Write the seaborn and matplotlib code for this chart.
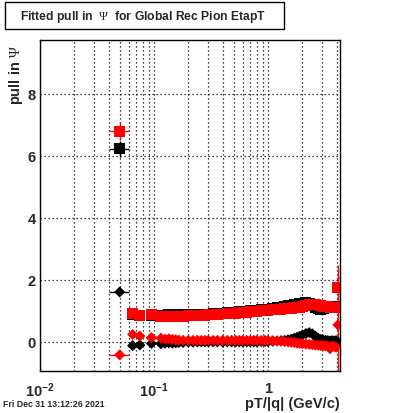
import numpy as np
import pandas as pd
import matplotlib
matplotlib.use("Agg")
import matplotlib.pyplot as plt
import seaborn as sns
from matplotlib.ticker import MultipleLocator, LogLocator, NullFormatter, FixedLocator
from matplotlib.patches import Rectangle

# bin centres in pT/|q| (GeV/c)
pt = [0.05, 0.065, 0.075, 0.095, 0.115, 0.125, 0.135, 0.145, 0.155, 0.165,
      0.18, 0.2, 0.22, 0.24, 0.26, 0.28, 0.3, 0.33, 0.36, 0.4,
      0.44, 0.48, 0.52, 0.56, 0.6, 0.65, 0.7, 0.75, 0.8, 0.87,
      0.94, 1.0, 1.1, 1.2, 1.3, 1.4, 1.5, 1.6, 1.7, 1.8,
      1.9, 2.0, 2.15, 2.3, 2.45, 2.6, 2.75, 2.9, 3.05, 3.2,
      3.35, 3.5, 3.65, 3.8, 3.95, 4.1]

# squares: fitted pull width, diamonds: fitted pull mean
sq_black = [6.23, 0.88, 0.85, 0.86, 0.86, 0.86, 0.87, 0.86, 0.86, 0.87,
            0.87, 0.88, 0.88, 0.89, 0.89, 0.90, 0.90, 0.91, 0.92, 0.93,
            0.94, 0.95, 0.96, 0.97, 0.98, 0.99, 1.00, 1.01, 1.02, 1.03,
            1.04, 1.06, 1.08, 1.10, 1.12, 1.14, 1.16, 1.18, 1.20, 1.22,
            1.24, 1.25, 1.26, 1.25, 1.20, 1.12, 1.07, 1.06, 1.08, 1.10,
            1.12, 1.13, 1.14, 1.15, 1.15, 1.15]
sq_red = [6.80, 0.92, 0.85, 0.87, 0.82, 0.82, 0.83, 0.82, 0.82, 0.83,
          0.83, 0.84, 0.84, 0.85, 0.86, 0.86, 0.87, 0.88, 0.89, 0.90,
          0.91, 0.92, 0.93, 0.94, 0.95, 0.96, 0.97, 0.98, 0.99, 1.00,
          1.01, 1.02, 1.03, 1.05, 1.06, 1.07, 1.08, 1.09, 1.10, 1.11,
          1.12, 1.13, 1.16, 1.20, 1.21, 1.20, 1.19, 1.17, 1.15, 1.14,
          1.13, 1.12, 1.12, 1.11, 1.10, 1.77]
dm_black = [1.61, -0.12, -0.10, -0.05, -0.06, -0.04, -0.03, -0.04, -0.03, -0.02,
            -0.02, -0.01, -0.01, 0.00, 0.00, 0.00, 0.00, 0.00, 0.00, -0.01,
            0.00, 0.00, 0.00, 0.00, 0.00, 0.00, 0.00, 0.00, 0.00, 0.01,
            0.01, 0.01, 0.02, 0.03, 0.04, 0.05, 0.07, 0.09, 0.12, 0.15,
            0.18, 0.22, 0.27, 0.30, 0.26, 0.18, 0.12, 0.08, 0.06, 0.05,
            0.04, 0.03, 0.04, 0.03, 0.04, 0.00]
dm_red = [-0.42, 0.24, 0.19, 0.14, 0.12, 0.09, 0.10, 0.08, 0.07, 0.06,
          0.05, 0.05, 0.05, 0.05, 0.05, 0.05, 0.05, 0.05, 0.05, 0.05,
          0.05, 0.05, 0.05, 0.05, 0.05, 0.05, 0.05, 0.05, 0.05, 0.05,
          0.05, 0.05, 0.04, 0.03, 0.02, 0.01, 0.00, -0.01, -0.02, -0.04,
          -0.05, -0.06, -0.07, -0.08, -0.09, -0.10, -0.11, -0.12, -0.12, -0.13,
          -0.14, -0.22, -0.14, -0.15, -0.17, 0.55]

n = len(pt)
err_sq_black = [0.25] + [0.03] * (n - 2) + [0.10]
err_sq_red = [0.29] + [0.03] * (n - 2) + [0.70]
err_dm_black = [0.08] + [0.03] * (n - 2) + [0.10]
err_dm_red = [0.08] + [0.03] * (n - 2) + [1.60]

x = np.array(pt)
xerr = np.gradient(x) / 2
xerr[0] = 0.01

series = [
    ("black", "s", sq_black, err_sq_black, 62),
    ("black", "D", dm_black, err_dm_black, 32),
    ("red", "s", sq_red, err_sq_red, 62),
    ("red", "D", dm_red, err_dm_red, 32),
]

sns.set_theme(style="white")
plt.rcParams["font.family"] = ["Liberation Sans", "DejaVu Sans"]
plt.rcParams["mathtext.fontset"] = "custom"
plt.rcParams["mathtext.rm"] = "Liberation Serif"
plt.rcParams["mathtext.bf"] = "Liberation Sans:bold"

fig = plt.figure(figsize=(4, 4.14), dpi=100)
ax = fig.add_axes([0.1, 0.1014, 0.75, 0.7995])

for color, marker, vals, errs, size in series:
    ax.errorbar(x, vals, xerr=xerr, yerr=errs, fmt="none", ecolor=color,
                elinewidth=1, capsize=0, zorder=3)
    df = pd.DataFrame({"pt": x, "val": vals})
    sns.scatterplot(data=df, x="pt", y="val", marker=marker, s=size,
                    color=color, edgecolor="none", linewidth=0, ax=ax, zorder=4)

ax.set_xscale("log")
ax.set_xlim(0.01, 4.28)
ax.set_ylim(-0.94, 9.74)
ax.set_xlabel("")
ax.set_ylabel("")

ax.xaxis.set_major_locator(FixedLocator([0.01, 0.1, 1]))
ax.xaxis.set_minor_locator(LogLocator(base=10, subs=np.arange(2, 10)))
ax.xaxis.set_minor_formatter(NullFormatter())
ax.set_xticklabels([r"$\mathbf{10^{-2}}$", r"$\mathbf{10^{-1}}$", "1"])
ax.yaxis.set_major_locator(MultipleLocator(2))
ax.yaxis.set_minor_locator(MultipleLocator(0.5))

ax.tick_params(which="both", direction="in", top=False, right=False,
               color="black", width=0.8)
ax.tick_params(which="major", length=6.5)
ax.tick_params(which="minor", length=3.2)
ax.tick_params(axis="x", pad=7, labelsize=10.5)
ax.tick_params(axis="y", pad=3, labelsize=10.5)
for lab in ax.get_xticklabels() + ax.get_yticklabels():
    lab.set_fontweight("bold")

dots = (0, (1, 2.2))
ax.grid(which="major", axis="both", color="black", linestyle=dots, linewidth=0.9)
ax.grid(which="minor", axis="x", color="black", linestyle=dots, linewidth=0.9)
ax.set_axisbelow(True)
for sp in ax.spines.values():
    sp.set_color("black")
    sp.set_linewidth(1)

# ROOT style texts
fig.text(0.85, 1 - 404 / 414, "pT/|q| (GeV/c)", ha="right", va="center",
         fontsize=10.5, fontweight="bold")
fig.text(16 / 400, 1 - 45 / 414, r"pull in $\mathrm{\Psi}$", rotation=90,
         ha="center", va="top", fontsize=10.5, fontweight="bold")
fig.text(3 / 400, 1 - 405 / 414, "Fri Dec 31 13:12:26 2021", ha="left",
         va="center", fontsize=6.3, fontweight="bold")

fig.patches.append(Rectangle((5 / 400, 1 - 30 / 414), 279 / 400, 27 / 414,
                             transform=fig.transFigure, fill=False,
                             edgecolor="black", linewidth=1))
fig.text(143 / 400, 1 - 17 / 414,
         r"Fitted pull in  $\mathrm{\Psi}$  for Global Rec Pion EtapT",
         ha="center", va="center", fontsize=8.7, fontweight="bold")

fig.savefig("out.png", dpi=100, facecolor="white")
